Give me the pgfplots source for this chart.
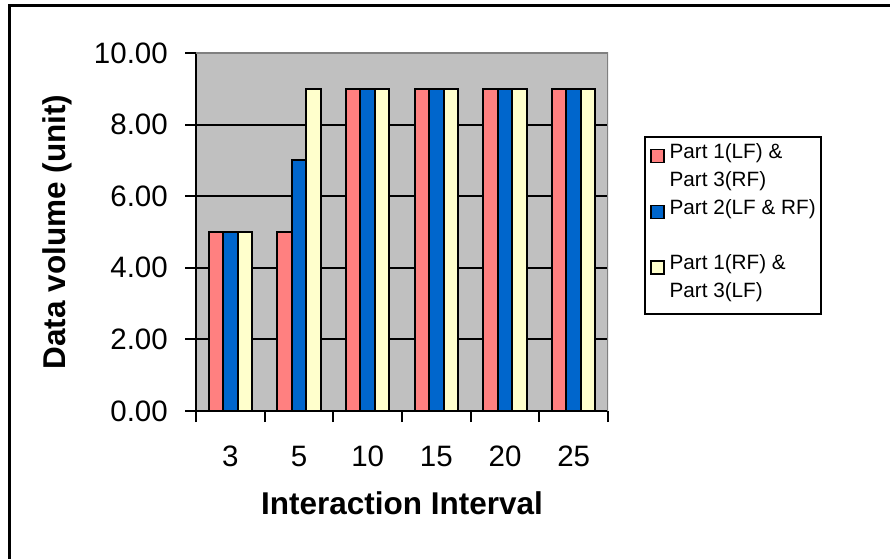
\documentclass[border=0pt]{standalone}
\usepackage{fontspec}
\setmainfont{Liberation Sans}
\usepackage{pgfplots}
\pgfplotsset{compat=1.18}

\definecolor{barpink}{HTML}{FF8080}
\definecolor{barblue}{HTML}{0066CC}
\definecolor{barcream}{HTML}{FFFFCC}
\definecolor{plotgray}{HTML}{C0C0C0}
\definecolor{framegray}{HTML}{808080}

\pgfplotsset{
  sqlegend/.style={legend image code/.code={%
      \draw[##1, line width=1.6pt] (0pt,-6.5pt) rectangle (13pt,6.5pt);}},
}

\begin{document}
\begin{tikzpicture}
\useasboundingbox (0,0) rectangle (890pt,559pt);
% outer frame (cut off at right and bottom)
\draw[line width=2.2pt] (9.5pt,0pt) -- (9.5pt,553.5pt) -- (890pt,553.5pt);
\begin{axis}[
    at={(196pt,148pt)}, anchor=south west,
    width=412pt, height=358pt, scale only axis,
    ybar=0pt, bar width=14.5pt,
    xmin=-0.5, xmax=5.5, ymin=0, ymax=10,
    axis background/.style={fill=plotgray},
    axis x line*=bottom, axis y line*=left,
    axis line style={black, line width=2pt},
    tick align=outside,
    major tick length=11pt, minor tick length=11pt,
    tick style={black, line width=2pt},
    xtick={0,...,5},
    xticklabels={3,5,10,15,20,25},
    major x tick style={draw=none},
    minor xtick={-0.5,0.5,...,5.5},
    ytick={0,2,...,10},
    ymajorgrids,
    grid style={black, line width=2pt},
    /pgf/number format/assume math mode=true,
    y tick label style={/pgf/number format/fixed,
      /pgf/number format/fixed zerofill,
      /pgf/number format/precision=2},
    tick label style={font=\fontsize{29.5}{34}\selectfont, inner sep=0pt},
    xticklabel style={yshift=-24pt},
    yticklabel style={xshift=-17pt},
    xlabel={Interaction Interval},
    ylabel={Data volume (unit)},
    label style={font=\fontsize{31.5}{36}\selectfont\bfseries},
    xlabel style={at={(axis description cs:0.5,-0.2905)}, anchor=base},
    ylabel style={at={(axis description cs:-0.336,0.5)}, anchor=center},
    legend cell align=left,
    legend style={at={(axis description cs:1.0874,0.768)}, anchor=north west,
      draw=black, line width=2pt,
      font=\fontsize{20.7}{24}\selectfont,
      inner xsep=5pt, inner ysep=5pt,
      nodes={inner sep=0pt, text height=16.3pt, text depth=11.6pt},
      column sep=5pt, row sep=0pt},
]
\addplot[fill=barpink, draw=black, line width=2pt, sqlegend]
  coordinates {(0,5) (1,5) (2,9) (3,9) (4,9) (5,9)};
\addlegendentry{Part 1(LF) \&}
\addlegendimage{empty legend}
\addlegendentry{Part 3(RF)}
\addplot[fill=barblue, draw=black, line width=2pt, sqlegend]
  coordinates {(0,5) (1,7) (2,9) (3,9) (4,9) (5,9)};
\addlegendentry{Part 2(LF \& RF)}
\addlegendimage{empty legend}
\addlegendentry{}
\addplot[fill=barcream, draw=black, line width=2pt, sqlegend]
  coordinates {(0,5) (1,9) (2,9) (3,9) (4,9) (5,9)};
\addlegendentry{Part 1(RF) \&}
\addlegendimage{empty legend}
\addlegendentry{Part 3(LF)}
% plot area border, top and right
\draw[framegray, line width=2pt] (rel axis cs:0,1) -- (rel axis cs:1,1) -- (rel axis cs:1,0);
\end{axis}
\end{tikzpicture}
\end{document}
